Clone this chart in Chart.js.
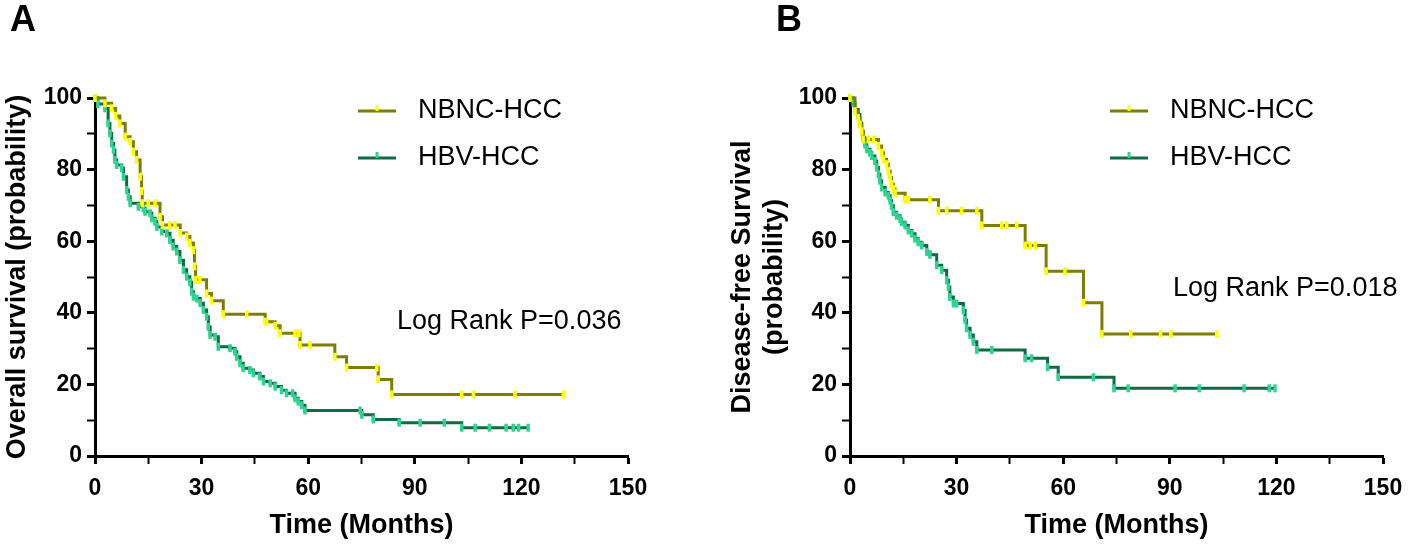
<!DOCTYPE html>
<html lang="en">
<head>
<meta charset="UTF-8">
<title>Kaplan-Meier curves</title>
<script src="https://cdn.jsdelivr.net/npm/chart.js"></script>
<style>
  body { margin: 0; background: #fff; }
  .panel { position: absolute; top: 0; width: 709px; height: 550px; }
</style>
</head>
<body>
<div class="panel" style="left:0"><canvas id="chartA" width="709" height="550"></canvas></div>
<div class="panel" style="left:709px"><canvas id="chartB" width="709" height="550"></canvas></div>

<script>
// months / survival % (events + censored marks)
var osNbncTime = [0, 2.8, 4.7, 5.8, 7, 8.5, 9.9, 10.8, 11.7, 12.7, 13.1, 13.3, 15, 16.9, 18.3, 19, 21, 22.5, 24, 25.8, 26.7, 27.7, 28, 28.3, 29.5, 31.4, 32.8, 36.1, 42.7, 47.9, 48.3, 50.7, 52.1, 56.3, 57.4, 57.7, 60.5, 67.5, 70.8, 79.3, 79.7, 83.5, 103.2, 106.5, 118.2, 131.8];
var osNbncProb = [100, 98.5, 97.1, 95, 92.9, 89.2, 87.8, 85, 82.7, 78, 74, 70.6, 70.6, 70.6, 66.8, 64.5, 64.5, 64.5, 62.3, 61.3, 59.5, 57.5, 53, 49.2, 49.2, 45.4, 43.4, 39.6, 39.6, 37.5, 37.5, 36.4, 34.3, 34.3, 34.3, 31, 31, 27.7, 24.7, 24.7, 21.4, 17.2, 17.2, 17.2, 17.2, 17.2];

var osHbvTime = [0, 0.8, 2.8, 3.7, 4.2, 4.7, 5.2, 5.6, 6.1, 7.5, 8, 8.9, 9.4, 9.9, 12.2, 13.6, 14.1, 15.5, 16, 16.9, 17.4, 18.8, 20.2, 21.1, 22, 23, 23.9, 24.9, 25.8, 26.7, 27.2, 27.7, 28.6, 29.6, 30.5, 31.4, 31.9, 32.4, 33.8, 34.7, 38, 39.4, 39.9, 40.8, 41.7, 43.6, 44.6, 46.4, 47.4, 49.3, 50.7, 52.5, 53.9, 55.6, 56.3, 57.2, 58.2, 59.1, 74.6, 75.1, 78.3, 85.6, 91.5, 98.3, 103.2, 107, 111, 115.7, 117.7, 119.2, 121.9];
var osHbvProb = [100, 98.3, 97.1, 92.9, 90.1, 87.3, 85.5, 82.7, 81.3, 80.4, 78, 74.3, 72.4, 70.6, 69.6, 69.2, 68.2, 67.8, 66.4, 65.4, 64, 62.7, 62.2, 60.3, 58.5, 57.1, 54.7, 52, 50.1, 48.5, 45.9, 44.5, 44, 42.7, 40.8, 38.9, 36.1, 33.8, 33.3, 30.5, 30.1, 29.1, 27.7, 25.9, 24.5, 24, 23.1, 22.2, 20.8, 20.3, 19.4, 18.4, 17.5, 17.5, 16.1, 15.2, 14.2, 12.7, 12.7, 11.5, 10.2, 9.3, 9.3, 9.3, 7.9, 7.9, 7.9, 7.9, 7.9, 7.9, 7.9];

var dfsNbncTime = [0, 1.4, 2.3, 2.8, 3.3, 3.7, 5.2, 6.6, 8, 8.9, 9.4, 10.3, 10.8, 11.3, 11.7, 12.2, 12.7, 15.5, 16.4, 22.5, 24.9, 27.2, 31.4, 35.7, 37.1, 42.7, 44.1, 46.9, 49.3, 50.7, 52.1, 55.2, 60.5, 65.7, 70.9, 79, 87.4, 90.3, 103.2];
var dfsNbncProb = [100, 96.3, 94.4, 92.6, 90.7, 88.4, 88.4, 88.4, 86.6, 84.7, 82.9, 81.5, 79.6, 77.8, 75.9, 74.5, 73.4, 71.6, 71.6, 71.6, 68.5, 68.5, 68.5, 68.5, 64.4, 64.4, 64.4, 64.4, 58.8, 58.8, 58.8, 51.6, 51.6, 42.8, 34.1, 34.1, 34.1, 34.1, 34.1];

var dfsHbvTime = [0, 0.9, 1.4, 2.3, 2.8, 3.3, 3.7, 4.2, 4.7, 5.6, 6.1, 7, 7.5, 8, 8.4, 8.9, 9.9, 10.8, 11.3, 11.7, 12.2, 13.1, 14.1, 14.5, 15.5, 16.4, 17.4, 18.3, 19.2, 20.2, 21.6, 22.5, 24.4, 25.8, 27.2, 27.7, 28.1, 29.1, 30, 31.9, 32.4, 32.8, 33.8, 34.7, 35.7, 39.9, 49.3, 51.1, 55.6, 58.6, 68.5, 74.3, 78.3, 91.5, 98.3, 110.9, 118, 119.6];
var dfsHbvProb = [100, 98.6, 96.8, 95.4, 93, 90.7, 88.9, 87, 85.7, 84.7, 83.8, 82.4, 80.6, 78.7, 76.9, 75, 73.6, 72.7, 71.3, 69.9, 68.1, 67.1, 66.2, 65.3, 64.4, 63, 62.1, 60.7, 59.7, 58.8, 57, 56.2, 53.3, 51.9, 49.1, 47.2, 44.4, 42.6, 42.6, 40.7, 38, 35.7, 33.8, 31.9, 29.6, 29.6, 27.3, 27.3, 24.8, 22, 22, 18.9, 18.9, 18.9, 18.9, 18.9, 18.9, 18.9];

var groupLabels = ['NBNC-HCC', 'HBV-HCC'];
var xTickLabels = [0, 30, 60, 90, 120, 150];
var yTickLabels = [0, 20, 40, 60, 80, 100];

var FONT = '"Liberation Sans", Arial, Helvetica, sans-serif';
var nbncLine = '#7d7d00', nbncMark = '#ffff00';
var hbvLine = '#0f6b42', hbvMark = '#2fd490';

function points(t, p) {
  return t.map(function(x, i) { return {x: x, y: p[i]}; });
}

function curve(label, t, p, lineColor, markColor) {
  return {
    label: label,
    data: points(t, p),
    stepped: 'before',
    borderColor: lineColor,
    borderWidth: 3,
    pointStyle: 'line',
    rotation: 90,
    pointRadius: 4,
    pointBorderWidth: 3.5,
    pointBorderColor: markColor,
    pointBackgroundColor: markColor,
    fill: false,
    clip: 8
  };
}

// panel letter, legend and log-rank text
function extras(opts) {
  return {
    id: 'extras',
    afterDraw: function(chart) {
      var ctx = chart.ctx;
      ctx.save();
      ctx.fillStyle = '#000';
      ctx.textBaseline = 'middle';
      ctx.font = 'bold 36px ' + FONT;
      ctx.fillText(opts.letter, opts.letterX, 21);

      ctx.font = '27px ' + FONT;
      chart.data.datasets.forEach(function(ds, i) {
        var y = opts.legendY[i];
        ctx.lineWidth = 3;
        ctx.strokeStyle = ds.borderColor;
        ctx.beginPath();
        ctx.moveTo(opts.legendX, y);
        ctx.lineTo(opts.legendX + 38, y);
        ctx.stroke();
        ctx.strokeStyle = ds.pointBorderColor;
        ctx.beginPath();
        ctx.moveTo(opts.legendX + 19, y - 6);
        ctx.lineTo(opts.legendX + 19, y);
        ctx.stroke();
        ctx.fillText(ds.label, opts.legendX + 60, y);
      });

      ctx.fillText(opts.pText, opts.pX, opts.pY);
      ctx.restore();
    }
  };
}

function makeChart(id, datasets, yTitle, yTitlePad, areaLeft, areaRight, extra) {
  var ctx = document.getElementById(id).getContext('2d');
  return new Chart(ctx, {
    type: 'line',
    data: {datasets: datasets},
    options: {
      responsive: false,
      animation: false,
      layout: {padding: {top: 98, left: 0, right: 709 - areaRight, bottom: 0}},
      plugins: {legend: {display: false}, tooltip: {enabled: false}},
      scales: {
        x: {
          type: 'linear',
          min: 0, max: 150,
          afterFit: function(s) { s.height = 94; },
          ticks: {
            stepSize: 15, autoSkip: false, maxRotation: 0, padding: 11, color: '#000',
            font: {family: FONT, size: 23, weight: 'bold'},
            callback: function(v) { return xTickLabels.indexOf(v) >= 0 ? String(v) : ''; }
          },
          grid: {
            drawOnChartArea: false, drawTicks: true, tickLength: 8, tickColor: '#000',
            tickWidth: function(c) { return c.tick && c.tick.value % 30 === 0 ? 3 : 2; }
          },
          border: {display: true, width: 3, color: '#000'},
          title: {
            display: true, text: 'Time (Months)', color: '#000',
            font: {family: FONT, size: 27, weight: 'bold'}, padding: {top: 0, bottom: 8}
          }
        },
        y: {
          min: 0, max: 100,
          afterFit: function(s) { s.width = areaLeft; },
          ticks: {
            stepSize: 10, autoSkip: false, padding: 5, color: '#000',
            font: {family: FONT, size: 23, weight: 'bold'},
            callback: function(v) { return yTickLabels.indexOf(v) >= 0 ? String(v) : ''; }
          },
          grid: {
            drawOnChartArea: false, drawTicks: true, tickLength: 8, tickColor: '#000',
            tickWidth: function(c) { return c.tick && c.tick.value % 20 === 0 ? 3 : 2; }
          },
          border: {display: true, width: 3, color: '#000'},
          title: {
            display: true, text: yTitle, color: '#000',
            font: {family: FONT, size: 27, weight: 'bold', lineHeight: 1.2},
            padding: {top: yTitlePad, bottom: 0}
          }
        }
      }
    },
    plugins: [extras(extra)]
  });
}

makeChart('chartA', [
  curve(groupLabels[0], osNbncTime, osNbncProb, nbncLine, nbncMark),
  curve(groupLabels[1], osHbvTime, osHbvProb, hbvLine, hbvMark)
], 'Overall survival (probability)', 1, 95, 628, {
  letter: 'A', letterX: 10, legendX: 358, legendY: [111, 158],
  pText: 'Log Rank P=0.036', pX: 397, pY: 322
});

makeChart('chartB', [
  curve(groupLabels[0], dfsNbncTime, dfsNbncProb, nbncLine, nbncMark),
  curve(groupLabels[1], dfsHbvTime, dfsHbvProb, hbvLine, hbvMark)
], ['Disease-free Survival', '(probability)'], 17, 141, 674, {
  letter: 'B', letterX: 67, legendX: 401, legendY: [111, 158],
  pText: 'Log Rank P=0.018', pX: 464, pY: 289
});
</script>
</body>
</html>
